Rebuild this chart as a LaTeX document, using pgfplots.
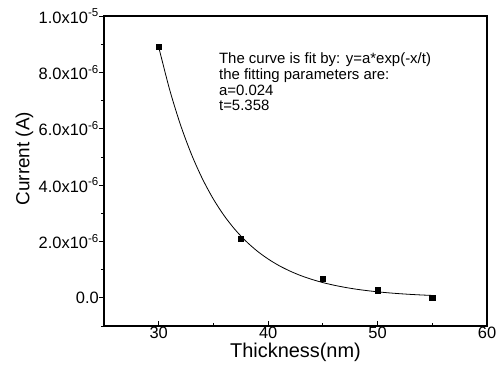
\documentclass[border=0pt]{standalone}
\usepackage{fontspec}
\setmainfont{Liberation Sans}
\usepackage{pgfplots}
\pgfplotsset{compat=1.18}
\begin{document}
\begin{tikzpicture}
\begin{axis}[
  name=ax,
  scale only axis,
  width=383bp, height=310bp,
  xmin=25, xmax=60, ymin=-1, ymax=10,
  axis line style={line width=1.2bp},
  xtick={30,40,50,60},
  minor xtick={35,45,55},
  ytick={0,2,4,6,8,10},
  minor ytick={-1,1,3,5,7,9},
  yticklabels={0.0,2.0x10\textsuperscript{-6},4.0x10\textsuperscript{-6},6.0x10\textsuperscript{-6},8.0x10\textsuperscript{-6},1.0x10\textsuperscript{-5}},
  xticklabels={30,40,50,60},
  xtick pos=bottom, ytick pos=left,
  tick align=inside,
  major tick length=5bp, minor tick length=3bp,
  tick style={black, line width=0.8bp},
  major y tick style={xshift=-5bp},
  minor y tick style={xshift=-3bp},
  tick label style={font=\fontsize{16.5}{18}\selectfont},
  xticklabel style={inner sep=0.5bp},
  yticklabel style={inner sep=2bp, xshift=-3bp},
  xlabel={Thickness(nm)},
  ylabel={Current (A)},
  xlabel style={font=\fontsize{20}{22}\selectfont, inner sep=0pt, yshift=-4bp},
  ylabel style={font=\fontsize{19}{21}\selectfont, at={(ticklabel cs:0.54)}},
]
\addplot[black, line width=0.8bp, smooth] coordinates {
(30,8.900) (31,7.385) (32,6.127) (33,5.084) (34,4.219) (35,3.500)
(36,2.904) (37,2.410) (38,2.000) (39,1.659) (40,1.377) (41,1.142)
(42,0.948) (43,0.786) (44,0.653) (45,0.541) (46,0.449) (47,0.373)
(48,0.309) (49,0.257) (50,0.213) (51,0.177) (52,0.147) (53,0.122)
(54,0.101) (55,0.084)
};
\addplot[only marks, mark=square*, mark size=2.6bp, black] coordinates {
(30,8.90) (37.5,2.09) (45,0.69) (50,0.27) (55,0.01)
};
\node[anchor=north west, align=left, inner sep=0pt, font=\fontsize{15}{15.8}\selectfont]
  at (axis cs:35.5,8.7) {The curve is fit by: y=a*exp(-x/t)\\the fitting parameters are:\\a=0.024\\t=5.358};
\end{axis}
\pgfresetboundingbox
\path ([xshift=-104bp,yshift=-46bp]ax.south west) rectangle ([xshift=11bp,yshift=16bp]ax.north east);
\end{tikzpicture}
\end{document}
